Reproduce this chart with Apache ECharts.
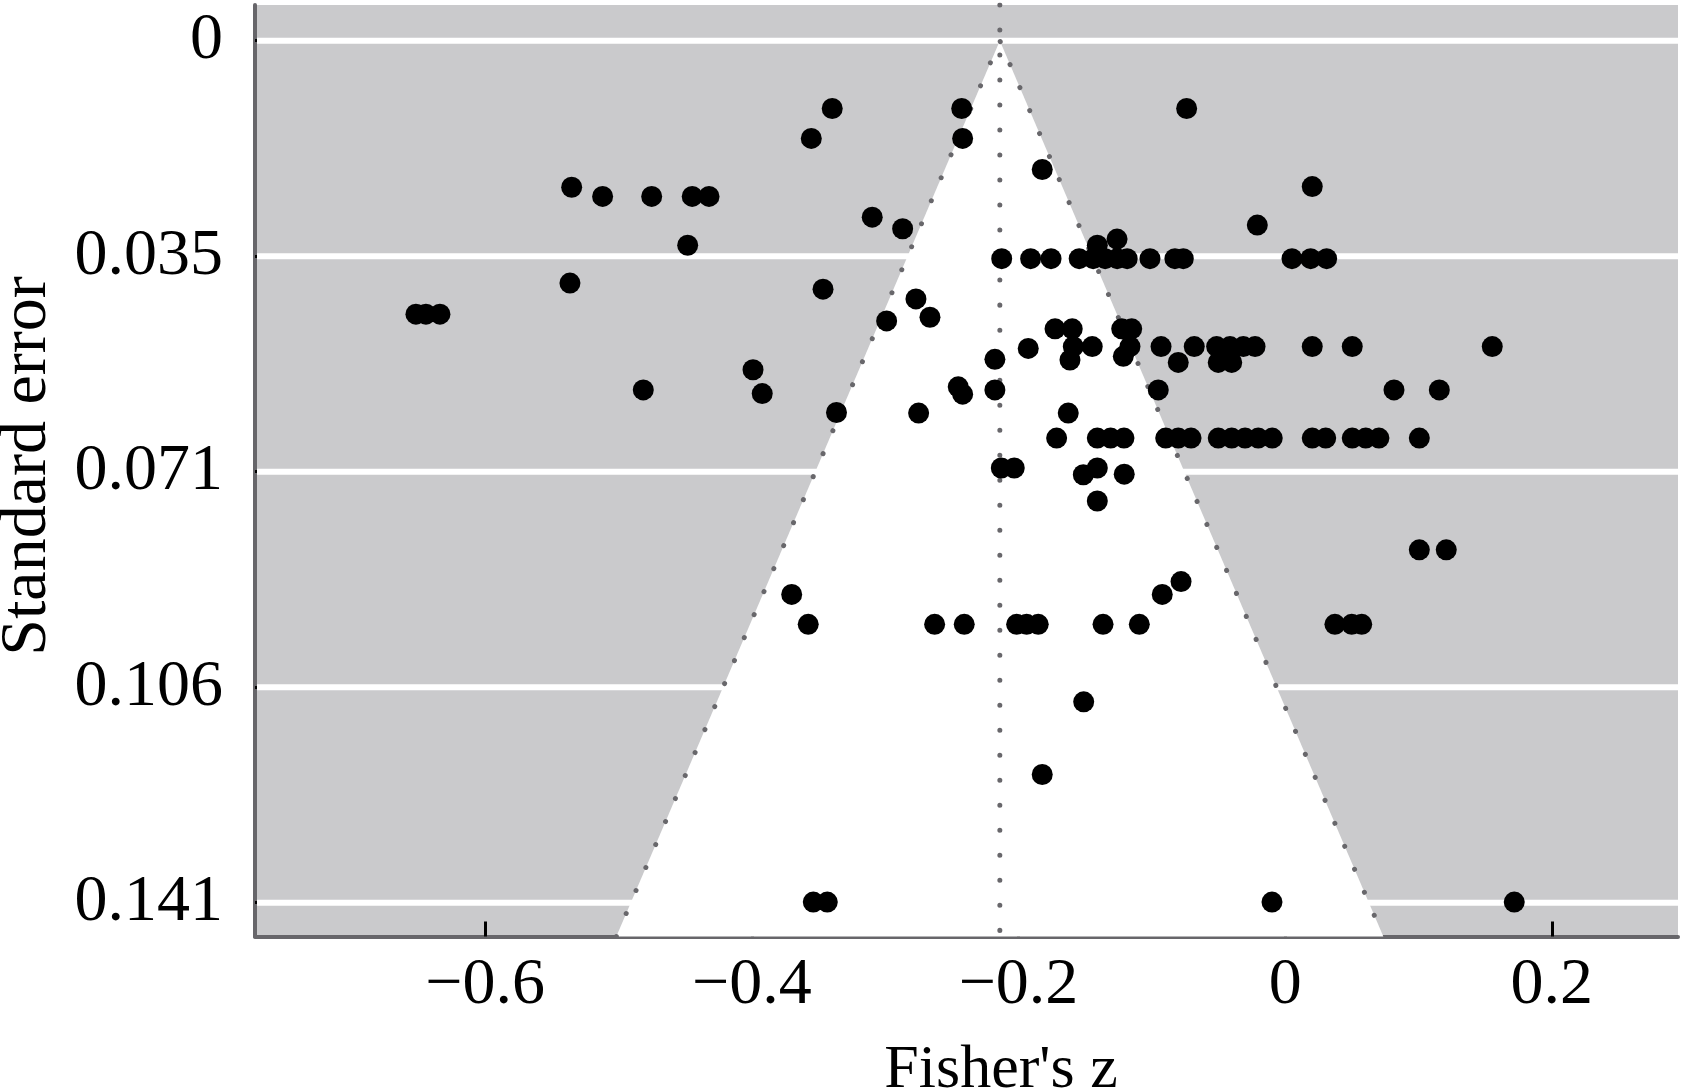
<!DOCTYPE html>
<html><head><meta charset="utf-8">
<script src="https://cdn.jsdelivr.net/npm/echarts@6/dist/echarts.min.js"></script>
<style>html,body{margin:0;padding:0;background:#fff}#c{width:1681px;height:1091px}</style>
</head><body><div id="c"></div>
<script>
// ---- data ----
const xTicks = [-0.6, -0.4, -0.2, 0, 0.2];
const yTicks = [0, 0.0353, 0.0706, 0.1059, 0.1412];
const xRange = [-0.7726, 0.2946];
const yRange = [-0.00585, 0.14674];
const pooledEffect = -0.214;
const criticalZ = 1.96;

const fisherZ = [
  -0.3397, -0.2426, -0.0739, -0.3554, -0.2419, -0.1822, -0.5351, 0.0203,
  -0.5119, -0.4751, -0.4447, -0.4321, -0.3097, -0.2869, -0.0209, -0.4481,
  -0.1261, -0.1409,
  -0.2126, -0.1909, -0.1756, -0.1545, -0.1440, -0.1350, -0.1260, -0.1185, -0.1014, -0.0827, -0.0764, 0.0051, 0.0191, 0.0311,
  -0.5364, -0.3466, -0.2769, -0.6519, -0.6444, -0.6339, -0.2664, -0.2989,
  -0.1726, -0.1597, -0.1226, -0.1151,
  -0.1927, -0.1589, -0.1447, -0.1164, -0.0931, -0.0682, -0.0514, -0.0414, -0.0314, -0.0226, 0.0203, 0.0503, 0.1553,
  -0.1614, -0.1214, -0.0802, -0.0502, -0.0401,
  -0.2177, -0.2177, -0.2452, -0.2419, -0.4814, -0.3991, -0.3922, -0.0952, 0.0816, 0.1156,
  -0.3365, -0.2749, -0.1627,
  -0.1714, -0.1409, -0.1309, -0.1209, -0.0896, -0.0802, -0.0706, -0.0502, -0.0401, -0.0301, -0.0202, -0.0097, 0.0203, 0.0304, 0.0503, 0.0604, 0.0703, 0.1006,
  -0.2129, -0.2032, -0.1514, -0.1409, -0.1207, -0.1409,
  -0.0781, -0.0922, 0.1006, 0.1208, -0.3701,
  -0.3577, -0.2629, -0.2407, -0.2014, -0.1939, -0.1852, -0.1366, -0.1094, 0.0373, 0.0499, 0.0574,
  -0.1511, -0.1822,
  -0.3539, -0.3434, -0.0099, 0.1718
];
const standardError = [
  0.0111, 0.0111, 0.0111, 0.0160, 0.0160, 0.0211, 0.0240, 0.0239,
  0.0255, 0.0255, 0.0255, 0.0255, 0.0289, 0.0308, 0.0302, 0.0335,
  0.0325, 0.0335,
  0.0357, 0.0357, 0.0357, 0.0357, 0.0357, 0.0357, 0.0357, 0.0357, 0.0357, 0.0357, 0.0357, 0.0357, 0.0357, 0.0357,
  0.0397, 0.0407, 0.0423, 0.0448, 0.0448, 0.0448, 0.0453, 0.0459,
  0.0472, 0.0472, 0.0472, 0.0472,
  0.0504, 0.0501, 0.0501, 0.0501, 0.0501, 0.0501, 0.0501, 0.0501, 0.0501, 0.0501, 0.0501, 0.0501, 0.0501,
  0.0523, 0.0517, 0.0527, 0.0527, 0.0527,
  0.0522, 0.0572, 0.0567, 0.0579, 0.0572, 0.0539, 0.0578, 0.0572, 0.0572, 0.0572,
  0.0609, 0.0610, 0.0610,
  0.0651, 0.0651, 0.0651, 0.0651, 0.0651, 0.0651, 0.0651, 0.0651, 0.0651, 0.0651, 0.0651, 0.0651, 0.0651, 0.0651, 0.0651, 0.0651, 0.0651, 0.0651,
  0.0700, 0.0700, 0.0711, 0.0700, 0.0710, 0.0754,
  0.0886, 0.0907, 0.0834, 0.0834, 0.0907,
  0.0956, 0.0956, 0.0956, 0.0956, 0.0956, 0.0956, 0.0956, 0.0956, 0.0956, 0.0956, 0.0956,
  0.1083, 0.1202,
  0.1411, 0.1411, 0.1411, 0.1411
];

// ---- chart ----
const FONT = '"Liberation Serif", "Times New Roman", serif';
const seBottom = yRange[1];
const points = fisherZ.map((z, i) => [z, standardError[i]]);
const funnelLine = [
  [pooledEffect - criticalZ * seBottom, seBottom],
  [pooledEffect, 0],
  [pooledEffect + criticalZ * seBottom, seBottom]
];
const centerLine = [[pooledEffect, yRange[0]], [pooledEffect, yRange[1]]];
const dotStyle = { color: '#68676b', width: 5, type: [0.01, 25], cap: 'round' };
const fmtX = v => v < 0 ? '\u2212' + String(Math.abs(v)) : String(v);
const fmtY = v => v === 0 ? '0' : v.toFixed(3);

const chart = echarts.init(document.getElementById('c'), null, { renderer: 'canvas' });
chart.setOption({
  animation: false,
  backgroundColor: '#ffffff',
  grid: { left: 255, right: 3, top: 5, bottom: 154.5, show: true, backgroundColor: '#cacacc', borderWidth: 0 },
  xAxis: {
    type: 'value', min: xRange[0], max: xRange[1],
    axisLine: { show: true, onZero: false, lineStyle: { color: '#67666a', width: 4 } },
    axisTick: { show: true, inside: true, length: 15, customValues: xTicks, lineStyle: { color: '#000', width: 3 } },
    axisLabel: { customValues: xTicks, formatter: fmtX, margin: 16, fontFamily: FONT, fontSize: 66, color: '#000' },
    splitLine: { show: false }
  },
  yAxis: {
    type: 'value', inverse: true, min: yRange[0], max: yRange[1],
    axisLine: { show: true, onZero: false, lineStyle: { color: '#67666a', width: 4 } },
    axisTick: { show: true, inside: true, length: 16, customValues: yTicks, lineStyle: { color: '#000', width: 3 } },
    axisLabel: { customValues: yTicks, formatter: fmtY, margin: 32, fontFamily: FONT, fontSize: 66, color: '#000' },
    splitLine: { show: false }
  },
  graphic: [
    { type: 'text', x: 28, y: 466, rotation: Math.PI / 2,
      style: { text: 'Standard error', fontFamily: FONT, fontSize: 66, fill: '#000', textAlign: 'center', textVerticalAlign: 'middle' } },
    { type: 'text', x: 1001, y: 1071,
      style: { text: "Fisher's z", fontFamily: FONT, fontSize: 62, fill: '#000', textAlign: 'center', textVerticalAlign: 'middle' } }
  ],
  series: [
    { // white horizontal grid lines
      type: 'custom', z: 1, silent: true,
      data: yTicks.map(v => [xRange[0], v]),
      renderItem: (params, api) => {
        const cs = params.coordSys;
        const y = api.coord([xRange[0], api.value(1)])[1];
        return { type: 'line', shape: { x1: cs.x + 2, y1: y, x2: cs.x + cs.width, y2: y }, style: { stroke: '#ffffff', lineWidth: 6 } };
      }
    },
    { // funnel interior
      type: 'custom', z: 2, silent: true,
      data: [[pooledEffect, 0]],
      renderItem: (params, api) => {
        const pts = funnelLine.map(p => api.coord(p));
        return { type: 'polygon', shape: { points: pts }, style: { fill: '#ffffff' } };
      }
    },
    { type: 'line', z: 3, silent: true, symbol: 'none', data: funnelLine, lineStyle: dotStyle },
    { type: 'line', z: 3, silent: true, symbol: 'none', data: centerLine, lineStyle: dotStyle },
    { type: 'scatter', z: 4, data: points, symbol: 'circle', symbolSize: 21, itemStyle: { color: '#000', opacity: 1 } }
  ]
});
</script></body></html>
